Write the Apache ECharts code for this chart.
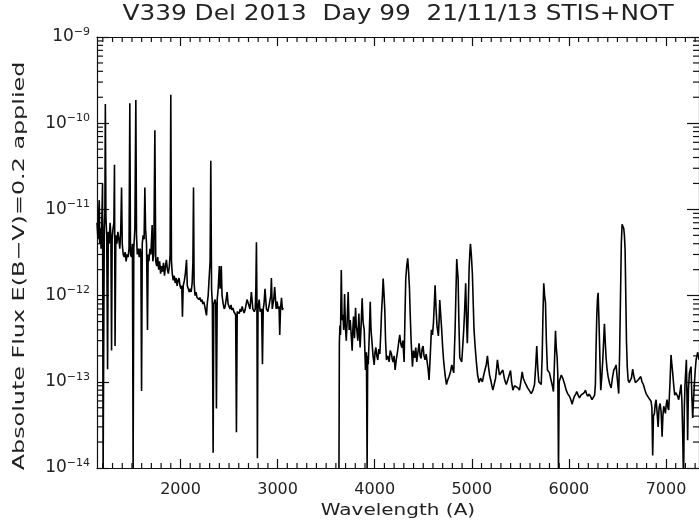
<!DOCTYPE html>
<html>
<head>
<meta charset="utf-8">
<script src="https://cdn.jsdelivr.net/npm/echarts@6/dist/echarts.min.js"></script>
<style>
  html, body { margin: 0; padding: 0; background: #fff; }
  #chart { width: 699px; height: 523px; }
</style>
</head>
<body>
<div id="chart"></div>
<script>
// flux values are in units of 1e-13
var FLUX_UNIT = 1e-13

// STIS ultraviolet part
var uvWave = [1140, 1150, 1158, 1163, 1168, 1175, 1182, 1190, 1197, 1203, 1209, 1215, 1221, 1226, 1232, 1240, 1249, 1256, 1265, 1275,
  1283, 1290, 1296, 1305, 1314, 1320, 1326, 1334, 1345, 1355, 1365, 1375, 1385, 1393, 1400, 1410, 1420, 1430, 1440, 1450,
  1460, 1470, 1478, 1485, 1495, 1505, 1512, 1519, 1530, 1540, 1547, 1555, 1565, 1575, 1585, 1592, 1599, 1606, 1615, 1625,
  1633, 1640, 1650, 1660, 1667, 1675, 1685, 1695, 1708, 1715, 1725, 1736, 1745, 1755, 1765, 1775, 1785, 1795, 1805, 1815,
  1825, 1835, 1845, 1855, 1865, 1875, 1885, 1893, 1900, 1907, 1915, 1925, 1935, 1945, 1955, 1965, 1975, 1985, 1995, 2005,
  2013, 2020, 2028, 2040, 2050, 2062, 2070, 2080, 2090, 2100, 2110, 2120, 2128, 2134, 2140, 2150, 2160, 2170, 2180, 2190,
  2200, 2210, 2220, 2230, 2240, 2250, 2260, 2268, 2275, 2285, 2295, 2305, 2312, 2320, 2328, 2336, 2343, 2355, 2363, 2370,
  2378, 2388, 2400, 2408, 2420, 2428, 2440, 2450, 2460, 2470, 2480, 2490, 2500, 2510, 2520, 2530, 2540, 2550, 2560, 2568,
  2576, 2584, 2595, 2605, 2615, 2625, 2635, 2645, 2655, 2665, 2675, 2685, 2700, 2715, 2730, 2745, 2760, 2770, 2776, 2782,
  2787, 2792, 2798, 2810, 2820, 2835, 2844, 2852, 2860, 2870, 2885, 2900, 2915, 2930, 2936, 2945, 2960, 2970, 2985, 2995,
  3005, 3015, 3022, 3030, 3040, 3050, 3056]
var uvFlux = [70, 45, 95, 128, 40, 60, 35, 75, 200, 0.09, 0.09, 60, 90, 1670, 80, 50, 1.4, 55, 40, 70,
  50, 2.3, 45, 60, 70, 330, 2.6, 50, 40, 55, 45, 35, 60, 180, 40, 30, 28, 32, 25, 30,
  28, 35, 1700, 30, 28, 40, 0.09, 35, 60, 1860, 50, 30, 35, 28, 35, 30, 0.78, 40, 50, 45,
  180, 60, 40, 4, 30, 25, 35, 30, 66, 25, 30, 830, 25, 22, 28, 20, 25, 18, 22, 19,
  24, 17, 22, 26, 20, 18, 22, 30, 2140, 25, 18, 15, 17, 14, 16, 13, 15, 16, 13, 12,
  13, 5.7, 13, 15, 18, 26, 13, 12, 11, 12, 11, 14, 25, 180, 14, 10, 11, 9.5, 10, 9,
  9.5, 8.5, 9, 8, 8.5, 7.5, 6.5, 5.9, 8, 10, 16, 25, 367, 12, 8, 0.15, 8, 9, 8, 0.49,
  9, 12, 22, 12, 22, 10, 8, 7, 7.5, 9, 11, 8, 7.5, 7, 7.8, 6.8, 7.2, 6.5, 6.8, 6,
  0.26, 6.5, 6.8, 6.2, 7, 6.5, 7.5, 6.8, 6.3, 6.8, 7, 9, 8, 7, 11, 7, 6.5, 7, 12, 41.5,
  9, 0.13, 7, 9, 6.5, 7, 1.6, 7, 8, 12, 7, 6.5, 8, 10, 16, 7, 9, 12.6, 7, 8.5,
  7, 7.5, 3.5, 7, 9.4, 6.8, 7.2]

// NOT optical part
var optWave = [3632, 3636, 3642, 3648, 3656, 3664, 3673, 3681, 3690, 3698, 3707, 3716, 3727, 3737, 3748, 3758, 3768, 3775, 3782, 3792,
  3803, 3810, 3816, 3826, 3837, 3844, 3850, 3860, 3871, 3880, 3892, 3905, 3915, 3922, 3928, 3934, 3944, 3954, 3962, 3971,
  3983, 3995, 4003, 4012, 4022, 4032, 4042, 4053, 4062, 4070, 4080, 4087, 4095, 4104, 4112, 4121, 4135, 4149, 4160, 4173,
  4182, 4190, 4200, 4210, 4222, 4234, 4246, 4258, 4268, 4279, 4290, 4303, 4312, 4320, 4330, 4340, 4348, 4358, 4366, 4375,
  4389, 4400, 4413, 4423, 4433, 4445, 4457, 4468, 4478, 4488, 4498, 4508, 4519, 4530, 4540, 4550, 4560, 4572, 4584, 4595,
  4605, 4614, 4622, 4632, 4642, 4656, 4663, 4670, 4680, 4690, 4700, 4711, 4725, 4739, 4752, 4766, 4780, 4794, 4804, 4814,
  4822, 4828, 4836, 4845, 4852, 4859, 4867, 4876, 4886, 4896, 4906, 4917, 4927, 4937, 4946, 4954, 4962, 4972, 4979, 4986,
  4995, 5006, 5015, 5023, 5035, 5047, 5060, 5075, 5090, 5109, 5123, 5137, 5150, 5161, 5172, 5183, 5195, 5207, 5217, 5230,
  5245, 5255, 5264, 5273, 5285, 5293, 5305, 5320, 5335, 5345, 5355, 5370, 5385, 5399, 5410, 5423, 5440, 5457, 5475, 5491,
  5505, 5519, 5530, 5545, 5560, 5575, 5590, 5612, 5630, 5646, 5658, 5669, 5680, 5690, 5703, 5715, 5725, 5733, 5741, 5750,
  5759, 5768, 5779, 5790, 5800, 5812, 5821, 5830, 5841, 5850, 5862, 5870, 5879, 5886, 5893, 5900, 5910, 5922, 5937, 5955,
  5972, 5990, 6006, 6020, 6034, 6045, 6057, 6070, 6081, 6095, 6109, 6125, 6143, 6158, 6171, 6183, 6194, 6208, 6222, 6238,
  6253, 6265, 6273, 6280, 6287, 6294, 6301, 6308, 6315, 6322, 6328, 6338, 6349, 6358, 6366, 6374, 6383, 6393, 6404, 6420,
  6435, 6448, 6462, 6475, 6486, 6498, 6513, 6522, 6531, 6540, 6548, 6556, 6565, 6572, 6579, 6586, 6593, 6601, 6610, 6620,
  6631, 6644, 6657, 6670, 6685, 6700, 6713, 6727, 6740, 6753, 6767, 6781, 6795, 6808, 6822, 6835, 6847, 6855, 6863, 6871,
  6881, 6889, 6898, 6908, 6919, 6929, 6939, 6950, 6960, 6968, 6977, 6985, 6994, 7003, 7011, 7020, 7028, 7040, 7052, 7060,
  7069, 7080, 7090, 7100, 7110, 7120, 7131, 7143, 7155, 7164, 7172, 7178, 7182, 7189, 7196, 7203, 7210, 7217, 7223, 7231,
  7241, 7250, 7258, 7266, 7275, 7283, 7292, 7300, 7310, 7318, 7327, 7340]
var optFlux = [0.09, 2.8, 4.5, 3.5, 19.8, 5.2, 6, 4, 10.4, 4.5, 3.0, 5, 11, 4, 5.2, 3.5, 2.3, 4, 5.7, 3.2,
  7.2, 4.5, 4.0, 3, 6.2, 3.5, 2.5, 4.5, 9.3, 5, 4.0, 1.37, 2.2, 0.1, 2, 1.6, 3.5, 8.5, 4, 3.0,
  2, 1.57, 2.2, 2.5, 2.0, 1.79, 2.4, 2.1, 3.5, 6.2, 10, 15.8, 11, 6.8, 3, 1.79, 2.0, 1.7, 2.3, 2.1,
  1.8, 1.7, 2.0, 1.37, 1.8, 2.2, 2.8, 3.5, 2.8, 2.5, 3.0, 1.7, 6, 15.8, 22, 27, 20, 12.2, 6, 3.0,
  1.5, 2.3, 1.9, 2.5, 1.7, 2.2, 2.8, 2.0, 1.87, 2.4, 2.6, 2.0, 1.8, 2.1, 1.7, 1.4, 1.05, 2, 4.0, 3.5,
  4.8, 8, 13.2, 7, 4.4, 3.4, 5, 8.9, 6, 4.0, 2.5, 1.7, 1.2, 0.93, 1.05, 1.15, 1.3, 1.57, 1.4, 1.27,
  2.5, 4.0, 10, 26.5, 20, 15.8, 5, 1.9, 2.0, 1.7, 2.5, 4.0, 7, 13.9, 5, 2.8, 6, 19.8, 30, 40,
  30, 18, 8, 4.0, 2.5, 1.7, 1.2, 0.98, 1.1, 1.0, 1.2, 1.15, 1.6, 2.0, 1.5, 1.2, 1.05, 0.9, 0.8, 0.84,
  1.1, 1.4, 1.8, 1.5, 1.2, 1.15, 1.25, 1.37, 1.1, 1.0, 0.93, 1.05, 1.1, 1.35, 1.0, 0.8, 0.9, 0.93, 0.85, 0.8,
  1.0, 1.3, 1.1, 1.0, 1.0, 0.85, 0.8, 0.73, 0.8, 0.93, 1.5, 2.6, 1.4, 1.0, 0.95, 0.93, 2, 6, 13.9, 10,
  8.2, 3, 1.37, 1.4, 1.27, 1.1, 1.05, 0.9, 0.77, 1.5, 3.9, 2.5, 1.9, 1.2, 0.09, 1.0, 1.05, 1.2, 1.1, 0.95,
  0.8, 0.72, 0.68, 0.62, 0.55, 0.62, 0.68, 0.72, 0.77, 0.7, 0.65, 0.7, 0.73, 0.75, 0.8, 0.72, 0.68, 0.72, 0.68, 0.62,
  0.59, 0.7, 0.93, 2.5, 5.7, 9, 10.8, 6, 3.0, 1.4, 0.8, 1.1, 1.8, 3, 4.7, 3, 1.9, 1.4, 1.15, 0.95,
  0.85, 1.1, 1.37, 1.45, 1.57, 1.1, 0.73, 2, 8.9, 40, 67, 64, 60, 50, 34, 10, 3.0, 1.5, 1.05, 0.98,
  0.93, 1.1, 1.4, 1.15, 0.98, 1.0, 1.05, 1.1, 1.15, 1.0, 0.93, 0.82, 0.73, 0.7, 0.65, 0.62, 0.59, 0.5, 0.14, 0.4,
  0.43, 0.55, 0.62, 0.45, 0.3, 0.5, 0.56, 0.45, 0.23, 0.4, 0.52, 0.48, 0.43, 0.55, 0.62, 0.5, 0.47, 0.9, 2.05, 1.6,
  1.27, 0.9, 0.7, 0.75, 0.73, 0.68, 0.62, 0.75, 0.93, 0.6, 0.25, 0.1, 0.09, 0.5, 0.93, 1.3, 1.8, 0.6, 0.21, 0.8,
  1.27, 1.4, 1.5, 0.7, 0.38, 0.6, 0.93, 1.3, 1.8, 2.0, 2.2, 1.8]

// axis ticks
var xMajorTicks = [2000, 3000, 4000, 5000, 6000, 7000]
var yDecades = [1e-14, 1e-13, 1e-12, 1e-11, 1e-10, 1e-9]

var xMinorTicks = []
for (var w = 1200; w <= 7300; w += 100) {
  if (w % 1000 !== 0) xMinorTicks.push(w)
}
var yMinorTicks = []
for (var d = 0; d < yDecades.length - 1; d++) {
  for (var m = 2; m <= 9; m++) yMinorTicks.push(m * yDecades[d])
}

var X_MIN = 1140, X_MAX = 7340
var Y_MIN = 1e-14, Y_MAX = 1e-9

function toPairs(wave, flux) {
  return wave.map(function (w, i) { return [w, flux[i] * FLUX_UNIT] })
}

var FONT = 'DejaVu Sans'
var TEXT_COLOR = '#222'
var AXIS_COLOR = '#111'

var chart = echarts.init(document.getElementById('chart'))

// tick marks on all four sides, pointing inward (IDL style)
function tickLine(x1, y1, x2, y2) {
  return { type: 'line', shape: { x1: x1, y1: y1, x2: x2, y2: y2 }, style: { stroke: AXIS_COLOR, lineWidth: 1.2 } }
}

function xTickRenderer(len) {
  return function (params, api) {
    var wl = api.value(0)
    var bottom = api.coord([wl, Y_MIN])
    var top = api.coord([wl, Y_MAX])
    return {
      type: 'group',
      children: [tickLine(bottom[0], bottom[1], bottom[0], bottom[1] - len), tickLine(top[0], top[1], top[0], top[1] + len)]
    }
  }
}

function yTickRenderer(len) {
  return function (params, api) {
    var v = api.value(1)
    var left = api.coord([X_MIN, v])
    var right = api.coord([X_MAX, v])
    return {
      type: 'group',
      children: [tickLine(left[0], left[1], left[0] + len, left[1]), tickLine(right[0], right[1], right[0] - len, right[1])]
    }
  }
}

function tickSeries(name, data, renderer) {
  return { name: name, type: 'custom', clip: false, renderItem: renderer, data: data }
}

function majorTick(values, len) {
  return { show: true, inside: true, length: len, customValues: values, lineStyle: { color: AXIS_COLOR, width: 1.2 } }
}

var lineStyle = { color: '#000', width: 1.6 }

// titles: the original plot font is much wider than DejaVu, so stretch along the text
function label(text, x, y, size, stretch, rotation) {
  return {
    type: 'text',
    x: x,
    y: y,
    rotation: rotation || 0,
    scaleX: stretch,
    silent: true,
    style: {
      text: text,
      fontFamily: FONT,
      fontSize: size,
      fill: TEXT_COLOR,
      align: 'center',
      verticalAlign: 'middle'
    }
  }
}

chart.setOption({
  animation: false,
  backgroundColor: '#fff',
  grid: { left: 97, right: 0, top: 37, bottom: 55 },
  xAxis: [
    {
      type: 'value',
      position: 'bottom',
      min: X_MIN,
      max: X_MAX,
      axisLine: { show: true, onZero: false, lineStyle: { color: AXIS_COLOR, width: 1.2 } },
      axisTick: majorTick(xMajorTicks, 9),
      axisLabel: {
        customValues: xMajorTicks,
        margin: 14,
        formatter: function (v) { return String(v) },
        fontFamily: FONT,
        fontSize: 16,
        color: TEXT_COLOR
      },
      splitLine: { show: false }
    },
    {
      type: 'value',
      position: 'top',
      min: X_MIN,
      max: X_MAX,
      axisLine: { show: true, onZero: false, lineStyle: { color: AXIS_COLOR, width: 1.2 } },
      axisTick: majorTick(xMajorTicks, 9),
      axisLabel: { show: false, customValues: xMajorTicks },
      splitLine: { show: false }
    }
  ],
  yAxis: [
    {
      type: 'log',
      logBase: 10,
      position: 'left',
      min: Y_MIN,
      max: Y_MAX,
      axisLine: { show: true, onZero: false, lineStyle: { color: AXIS_COLOR, width: 1.2 } },
      axisTick: majorTick(yDecades, 12),
      axisLabel: {
        customValues: yDecades,
        margin: 7,
        formatter: function (v) {
          var e = Math.round(Math.log10(v))
          return '{b|10}{s|−' + (-e) + '}'
        },
        rich: {
          b: { fontFamily: FONT, fontSize: 17, color: TEXT_COLOR },
          s: { fontFamily: FONT, fontSize: 11, color: TEXT_COLOR, verticalAlign: 'top', padding: [0, 0, 10, 0] }
        }
      },
      splitLine: { show: false }
    },
    {
      type: 'log',
      logBase: 10,
      position: 'right',
      min: Y_MIN,
      max: Y_MAX,
      axisLine: { show: true, onZero: false, lineStyle: { color: AXIS_COLOR, width: 1.2 } },
      axisTick: majorTick(yDecades, 12),
      axisLabel: { show: false, customValues: yDecades },
      splitLine: { show: false }
    }
  ],
  graphic: [
    label('V339 Del 2013  Day 99  21/11/13 STIS+NOT', 398, 15, 21, 1.18),
    label('Wavelength (A)', 398, 511, 16, 1.25),
    label('Absolute Flux E(B−V)=0.2 applied', 20, 266, 16, 1.49, Math.PI / 2)
  ],
  series: [
    {
      name: 'STIS',
      type: 'line',
      showSymbol: false,
      clip: true,
      data: toPairs(uvWave, uvFlux),
      lineStyle: lineStyle
    },
    {
      name: 'NOT',
      type: 'line',
      showSymbol: false,
      clip: true,
      data: toPairs(optWave, optFlux),
      lineStyle: lineStyle
    },
    tickSeries('xMinor', xMinorTicks.map(function (v) { return [v, Y_MIN] }), xTickRenderer(5)),
    tickSeries('yMinor', yMinorTicks.map(function (v) { return [X_MIN, v] }), yTickRenderer(6))
  ]
})
</script>
</body>
</html>
